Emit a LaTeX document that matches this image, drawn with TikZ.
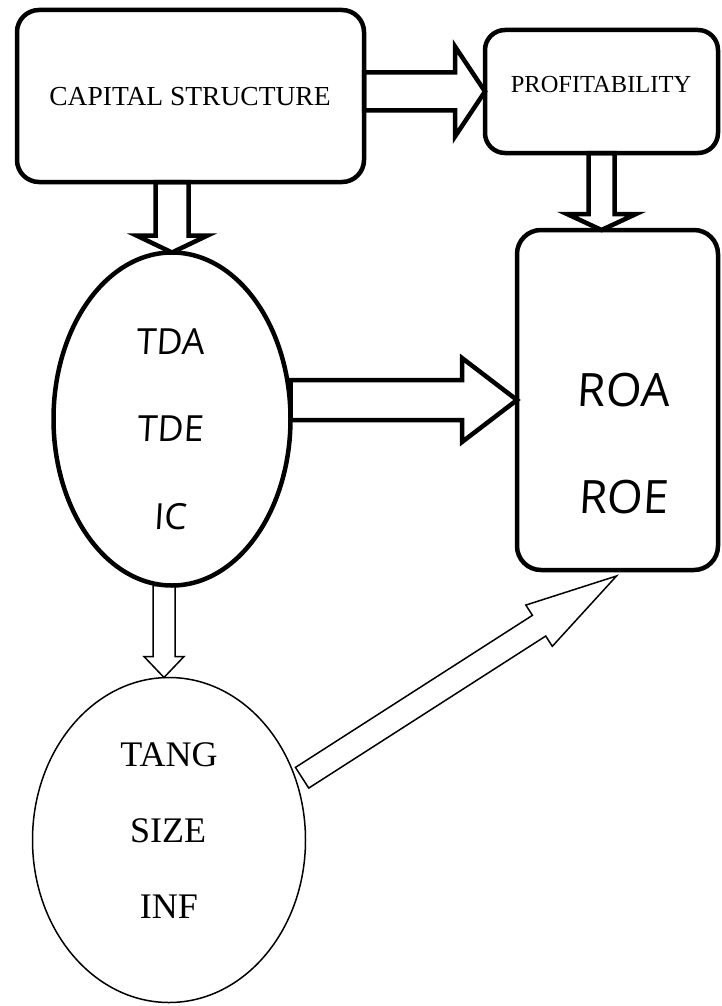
\documentclass[tikz,border=0pt]{standalone}
\usepackage{fontspec}
\setmainfont{Liberation Serif}
\newfontfamily\handfont[FakeSlant=0.06]{Open Sans}
\usetikzlibrary{calc,shapes.geometric}
\newcommand\blkarrow[6]{% #1 style, #2 start, #3 tip, #4 shaft half width, #5 head half width, #6 head length
  \coordinate (hb) at ($(#3)!#6!(#2)$);
  \draw[#1] ($(#2)!#4!90:(#3)$) -- ($(hb)!#4!90:(#3)$) -- ($(hb)!#5!90:(#3)$) -- (#3)
    -- ($(hb)!#5!-90:(#3)$) -- ($(hb)!#4!-90:(#3)$) -- ($(#2)!#4!-90:(#3)$) -- cycle;
}
\tikzset{
  boxthick/.style={draw, line width=4.5pt, rounded corners=22pt, inner sep=0pt, outer sep=0pt},
  ellthick/.style={draw, ellipse, line width=4.5pt, inner sep=0pt, outer sep=0pt},
  ellthin/.style={draw, ellipse, line width=1.5pt, inner sep=0pt, outer sep=0pt},
  arrthick/.style={line width=4.5pt, line join=miter, miter limit=10},
  arrthin/.style={line width=1.5pt, line join=miter, miter limit=10},
  sertext/.style={inner sep=0pt, font=\fontsize{#1}{#1}\selectfont},
  handtext/.style={inner sep=0pt, font=\handfont\fontsize{#1}{#1}\selectfont},
}
\begin{document}
\begin{tikzpicture}[x=1pt, y=-1pt]
\useasboundingbox (0,0) rectangle (722,1006);
% boxes and ellipses
\node[boxthick, minimum width=347pt, minimum height=172pt] (cs) at (190.5,96) {};
\node[boxthick, rounded corners=20pt, minimum width=233pt, minimum height=123pt] (prof) at (601.5,91.5) {};
\node[boxthick, rounded corners=24pt, minimum width=201pt, minimum height=340pt] (roa) at (617.5,400) {};
\node[ellthick, minimum width=237pt, minimum height=333pt] (el1) at (172,419) {};
\node[ellthin, minimum width=273pt, minimum height=325pt] (el2) at (169,840) {};
% texts
\node[sertext=27.5] (tcs) at (190,97) {CAPITAL STRUCTURE};
\node[sertext=24.5] (tprof) at (601,85) {PROFITABILITY};
\node[handtext=36] (ttda) at (170,342) {TDA};
\node[handtext=36] (ttde) at (170,429) {TDE};
\node[handtext=36] (tic) at (170,517) {IC};
\node[handtext=46] (troa) at (623,390) {ROA};
\node[handtext=46] (troe) at (623,497) {ROE};
\node[sertext=36] (ttang) at (169,755) {TANG};
\node[sertext=36] (tsize) at (168,831) {SIZE};
\node[sertext=36] (tinf) at (169,907) {INF};
% arrow end points
\coordinate (a1s) at (cs.east |- prof.west);
\coordinate (a2s) at (cs.south -| el1.north);
\coordinate (a3e) at (prof.south |- roa.north);
\coordinate (a4s) at (el1.east |- roa.west);
\coordinate (a5s) at ($(el1.south)+(-8,0)$);
\coordinate (a5e) at ($(el2.north)+(-5,0)$);
\coordinate (a6s) at ($(el2.25)+(6,-3)$);
\coordinate (a6e) at ($(roa.south)+(-1,6)$);
% block arrows
\blkarrow{arrthick}{a1s}{prof.west}{19pt}{45pt}{30pt}
\blkarrow{arrthick}{a2s}{el1.north}{16.5pt}{35.5pt}{17pt}
\blkarrow{arrthick}{prof.south}{a3e}{13pt}{34.5pt}{16pt}
\blkarrow{arrthick}{a4s}{roa.west}{20pt}{42pt}{55pt}
\blkarrow{arrthin}{a5s}{a5e}{11pt}{20pt}{21pt}
\blkarrow{arrthin}{a6s}{a6e}{12.3pt}{24.5pt}{92pt}
\end{tikzpicture}
\end{document}
